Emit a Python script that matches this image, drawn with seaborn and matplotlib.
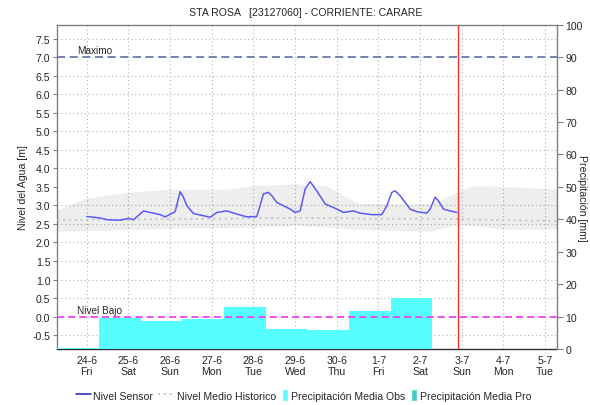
import numpy as np
import pandas as pd
import matplotlib
matplotlib.use("Agg")
import matplotlib.pyplot as plt
import seaborn as sns
from matplotlib.lines import Line2D
from matplotlib.patches import Patch

# ---- data (x in days from 24-6 00:00) ----
sensor_day = [0.00, 0.32, 0.51, 0.80, 1.00, 1.12, 1.36, 1.52, 1.76, 1.88, 2.00, 2.12,
              2.24, 2.32, 2.40, 2.56, 2.88, 2.96, 3.04, 3.12, 3.36, 3.68, 3.84, 4.08,
              4.24, 4.36, 4.44, 4.56, 4.88, 5.00, 5.12, 5.24, 5.36, 5.52, 5.72, 6.00,
              6.16, 6.40, 6.56, 6.84, 7.08, 7.20, 7.32, 7.40, 7.52, 7.76, 7.92, 8.16,
              8.24, 8.36, 8.44, 8.56, 8.72, 8.88]
sensor_level = [2.70, 2.66, 2.61, 2.60, 2.65, 2.61, 2.85, 2.81, 2.75, 2.69, 2.76, 2.83,
                3.37, 3.22, 2.99, 2.78, 2.70, 2.68, 2.74, 2.81, 2.85, 2.74, 2.69, 2.70,
                3.31, 3.35, 3.26, 3.08, 2.90, 2.81, 2.85, 3.44, 3.64, 3.39, 3.04, 2.90,
                2.81, 2.85, 2.79, 2.75, 2.75, 2.99, 3.35, 3.39, 3.26, 2.90, 2.83, 2.79,
                2.90, 3.22, 3.12, 2.90, 2.85, 2.81]

hist_day = [-0.71, 0.00, 0.96, 2.00, 3.36, 4.16, 4.95, 5.76, 6.15, 6.56, 7.50, 8.24,
            8.88, 9.27, 10.04, 11.30]
hist_high = [2.88, 3.20, 3.35, 3.44, 3.44, 3.55, 3.58, 3.53, 3.26, 3.05, 3.04, 3.05,
             3.35, 3.53, 3.51, 3.44]
hist_low = [2.30, 2.32, 2.35, 2.38, 2.40, 2.42, 2.45, 2.42, 2.38, 2.35, 2.32, 2.30,
            2.48, 2.45, 2.36, 2.36]
hist_mean = [2.60, 2.61, 2.62, 2.63, 2.64, 2.66, 2.66, 2.66, 2.65, 2.64, 2.64, 2.64,
             2.63, 2.62, 2.60, 2.58]

# daily rainfall, 07:00 to 07:00, keyed by start day
rain_start_day = [-0.7083, 0.2917, 1.2917, 2.2917, 3.2917, 4.2917, 5.2917, 6.2917, 7.2917]
rain_mm = [0.3, 9.5, 8.7, 9.4, 13.0, 6.3, 6.0, 11.8, 15.8]

tick_dates = ["24-6", "25-6", "26-6", "27-6", "28-6", "29-6", "30-6", "1-7", "2-7",
              "3-7", "4-7", "5-7"]
tick_weekdays = ["Fri", "Sat", "Sun", "Mon", "Tue", "Wed", "Thu", "Fri", "Sat",
                 "Sun", "Mon", "Tue"]

level_max = 7.0
level_low = 0.0
now_day = 8.90

# ---- style ----
sns.set_style("white")
plt.rcParams["font.family"] = ["Liberation Sans", "DejaVu Sans"]
FS = 7.6
GRID = dict(color="#b4b4b4", linewidth=0.8, linestyle=(0, (1, 2.5)))

fig = plt.figure(figsize=(5.9, 4.06), dpi=100)
W, H = 590, 406
x0, x1, y0, y1 = 57.3, 557.3, 25.7, 350.0
rain_ax = fig.add_axes([x0 / W, 1 - y1 / H, (x1 - x0) / W, (y1 - y0) / H])
lev_ax = rain_ax.twinx()

xmin, xmax = -0.7083, 11.2917
rain_ax.set_xlim(xmin, xmax)
rain_ax.set_ylim(0, 100)
lev_ax.set_ylim(-0.875, 7.875)

# ---- precipitation bars (back axis) ----
rain_df = pd.DataFrame({"centre": np.array(rain_start_day) + 0.5, "mm": rain_mm})
edges = list(rain_start_day) + [rain_start_day[-1] + 1.0]
sns.histplot(data=rain_df, x="centre", weights="mm", bins=edges, ax=rain_ax,
             color="#55ffff", alpha=1.0, linewidth=0, element="bars", zorder=3)

# grid on the back axis: vertical at days, horizontal at level steps
day_ticks = np.arange(len(tick_dates))
rain_ax.set_xticks(day_ticks)
rain_ax.set_xticklabels([f"{d}\n{w}" for d, w in zip(tick_dates, tick_weekdays)],
                        fontsize=FS, linespacing=1.15)
rain_ax.tick_params(axis="x", length=0, pad=4)
level_ticks = np.arange(-0.5, 7.51, 0.5)
rain_ax.set_yticks(10 + level_ticks / 0.0875, minor=True)
rain_ax.set_yticks(np.arange(0, 101, 10))
rain_ax.grid(False)
rain_ax.grid(True, axis="x", which="major", **GRID)
rain_ax.grid(True, axis="y", which="minor", **GRID)
rain_ax.set_axisbelow(True)
rain_ax.yaxis.tick_right()
rain_ax.yaxis.set_label_position("right")
rain_ax.tick_params(axis="y", which="major", labelsize=FS, length=4, width=0.8,
                    color="#808080", pad=2, right=True, left=False)
rain_ax.tick_params(axis="y", which="minor", length=0)
rain_ax.set_xlabel("")
rain_ax.set_ylabel("")

# ---- level axis (front) ----
lev_ax.yaxis.tick_left()
lev_ax.yaxis.set_label_position("left")
lev_ax.set_yticks(level_ticks)
lev_ax.set_yticklabels([f"{v:.1f}" for v in level_ticks])
lev_ax.tick_params(axis="y", labelsize=FS, length=3, width=0.8, color="#808080",
                   pad=2, left=True, right=False)
lev_ax.set_ylabel("Nivel del Agua [m]", fontsize=FS, labelpad=3)

lev_ax.fill_between(hist_day, hist_low, hist_high, color="black", alpha=0.065,
                    linewidth=0, zorder=1)
hist_df = pd.DataFrame({"day": hist_day, "mean": hist_mean})
sns.lineplot(data=hist_df, x="day", y="mean", ax=lev_ax, color="#c4c4c4",
             linewidth=1.3, linestyle=(0, (1.2, 2.0)), zorder=2)
sensor_df = pd.DataFrame({"day": sensor_day, "level": sensor_level})
sns.lineplot(data=sensor_df, x="day", y="level", ax=lev_ax, color="#5b5bf2",
             linewidth=1.1, zorder=4)

lev_ax.axhline(level_max, color="#6a78a8", linewidth=1.3,
               linestyle=(0, (4.5, 2.5)), zorder=5)
lev_ax.axhline(level_low, color="#ee44ee", linewidth=1.3,
               linestyle=(0, (4.0, 2.2)), zorder=5)
lev_ax.axvline(now_day, color="#ff3030", linewidth=1.0, zorder=6)
lev_ax.text(-0.24, level_max + 0.05, "Maximo", fontsize=FS - 0.4, va="bottom",
            ha="left")
lev_ax.text(-0.24, level_low + 0.05, "Nivel Bajo", fontsize=FS - 0.4, va="bottom",
            ha="left")
lev_ax.set_xlim(xmin, xmax)
lev_ax.set_xlabel("")

# spines
for ax in (rain_ax, lev_ax):
    for s in ax.spines.values():
        s.set_visible(False)
for side in ("left", "right", "top"):
    rain_ax.spines[side].set_visible(True)
    rain_ax.spines[side].set_color("#808080")
    rain_ax.spines[side].set_linewidth(1.0)
rain_ax.spines["bottom"].set_visible(True)
rain_ax.spines["bottom"].set_color("#303030")
rain_ax.spines["bottom"].set_linestyle((0, (1, 1)))
rain_ax.spines["bottom"].set_linewidth(1.0)

# titles and right label
fig.text(306 / W, 1 - 13 / H, "STA ROSA   [23127060] - CORRIENTE: CARARE",
         fontsize=FS, ha="center", va="center")
fig.text(582 / W, 1 - 198 / H, "Precipitación [mm]", fontsize=FS, rotation=270,
         ha="center", va="center")

# legend row: one entry per legend so each handle keeps its own width
em_px = FS * 100 / 72
legend_items = [
    (Line2D([], [], color="#1c1cd0", linewidth=1.1), "Nivel Sensor", 76, 15, 1.7),
    (Line2D([], [], color="#c4c4c4", linewidth=1.3, linestyle=(0, (1.2, 2.0))),
     "Nivel Medio Historico", 158, 15, 4.0),
    (Patch(facecolor="#55ffff"), "Precipitación Media Obs", 281.7, 6, 3.0),
    (Patch(facecolor="#44ccc4"), "Precipitación Media Pro", 411, 6, 3.0),
]
for handle, label, left_px, hlen_px, pad_px in legend_items:
    fig.legend([handle], [label], loc="center left",
               bbox_to_anchor=(left_px / W, 1 - 396 / H), frameon=False,
               fontsize=FS, handlelength=hlen_px / em_px, handleheight=1.35,
               handletextpad=pad_px / em_px, borderaxespad=0, borderpad=0)

fig.savefig("out.png", dpi=100)
